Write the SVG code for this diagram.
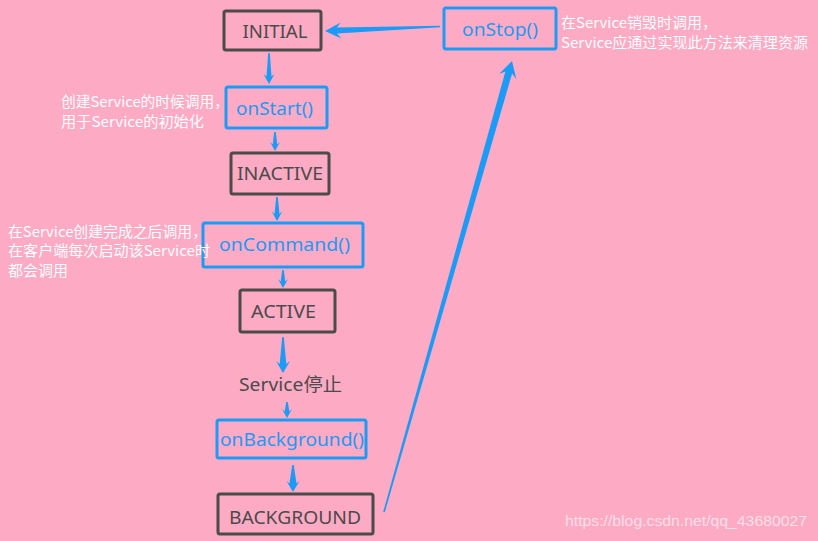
<svg xmlns="http://www.w3.org/2000/svg" width="818" height="541" viewBox="0 0 818 541">
<style>
.state rect{fill:none;stroke:#4b4b4b;stroke-width:3}
.method rect{fill:none;stroke:#1c9bf6;stroke-width:3}
.lbl{font-family:"Noto Sans","Noto Sans CJK SC",sans-serif;font-size:18px;text-anchor:middle}
.state .lbl{fill:#4b4b4b}
.method .lbl{fill:#1c9bf6}
.note{font-family:"Noto Sans CJK SC","Noto Sans",sans-serif;font-size:14.5px;fill:#ffffff}
.arr{fill:#1c9bf6}
</style>
<rect x="0" y="0" width="818" height="541" fill="#fdaac4"/>

<g id="INITIAL" class="state"><rect x="224" y="11" width="97" height="39" rx="2"/><text class="lbl" x="275" y="37.5" textLength="65" lengthAdjust="spacingAndGlyphs">INITIAL</text></g>
<g id="onStop" class="method"><rect x="444" y="8" width="112" height="41" rx="2"/><text class="lbl" x="500" y="36" textLength="76" lengthAdjust="spacingAndGlyphs">onStop()</text></g>
<g id="onStart" class="method"><rect x="226" y="87" width="101" height="41" rx="2"/><text class="lbl" x="274.5" y="115" textLength="77" lengthAdjust="spacingAndGlyphs">onStart()</text></g>
<g id="INACTIVE" class="state"><rect x="231" y="153" width="98" height="41" rx="2"/><text class="lbl" x="280" y="179.5" textLength="86" lengthAdjust="spacingAndGlyphs">INACTIVE</text></g>
<g id="onCommand" class="method"><rect x="203" y="223" width="160" height="44" rx="2"/><text class="lbl" x="284.5" y="251" textLength="131" lengthAdjust="spacingAndGlyphs">onCommand()</text></g>
<g id="ACTIVE" class="state"><rect x="240" y="290" width="95" height="42" rx="2"/><text class="lbl" x="283.5" y="317.5" textLength="65" lengthAdjust="spacingAndGlyphs">ACTIVE</text></g>
<g id="ServiceStop" class="state"><text class="lbl" x="290.5" y="391" textLength="103" lengthAdjust="spacingAndGlyphs">Service停止</text></g>
<g id="onBackground" class="method"><rect x="217" y="420" width="149" height="38" rx="2"/><text class="lbl" x="292" y="446" textLength="144" lengthAdjust="spacingAndGlyphs">onBackground()</text></g>
<g id="BACKGROUND" class="state"><rect x="218" y="494" width="155" height="40" rx="2"/><text class="lbl" x="295" y="523.5" textLength="132" lengthAdjust="spacingAndGlyphs">BACKGROUND</text></g>

<g id="notes">
<text class="note" x="561" y="28" textLength="156" lengthAdjust="spacingAndGlyphs">在Service销毁时调用，</text>
<text class="note" x="561" y="48" textLength="247" lengthAdjust="spacingAndGlyphs">Service应通过实现此方法来清理资源</text>
<text class="note" x="61" y="107" textLength="168" lengthAdjust="spacingAndGlyphs">创建Service的时候调用，</text>
<text class="note" x="61" y="127" textLength="143" lengthAdjust="spacingAndGlyphs">用于Service的初始化</text>
<text class="note" x="8" y="237" textLength="199" lengthAdjust="spacingAndGlyphs">在Service创建完成之后调用，</text>
<text class="note" x="8" y="256" textLength="202" lengthAdjust="spacingAndGlyphs">在客户端每次启动该Service时</text>
<text class="note" x="8" y="276" textLength="60" lengthAdjust="spacingAndGlyphs">都会调用</text>
</g>

<g id="connectors" class="arr">
<polygon points="440,25.8 336.9,27.5 340.7,22.4 325,31 341.3,38.4 337.1,33.5 440,27.2"/>
<polygon points="269.8,53 271.5,76.5 274.5,74 269,84 263.5,74 266.5,76.5 268.2,53"/>
<polygon points="275.8,132 277.3,144.5 280,142 275,151 270,142 272.7,144.5 274.2,132"/>
<polygon points="277.8,197 279.5,214 282.5,211 277,221 271.5,211 274.5,214 276.2,197"/>
<polygon points="283.8,270 285.3,281.5 288,279 283,288 278,279 280.7,281.5 282.2,270"/>
<polygon points="283.8,337 286.3,364 290,361 283,373 276,361 279.7,364 282.2,337"/>
<polygon points="287.8,402 289.3,411.5 292,409 287,418 282,409 284.7,411.5 286.2,402"/>
<polygon points="293.8,465 296.5,483.5 299.5,481 293,492 286.5,481 289.5,483.5 292.2,465"/>
<polygon points="384.8,512.2 512.1,73.4 516.3,78.9 512,61 499,73.9 505.4,71.5 383.2,511.8"/>
</g>

<text x="565" y="526" font-family="Liberation Sans, Arial, sans-serif" font-size="15" fill="#ffffff" fill-opacity="0.65" textLength="242" lengthAdjust="spacingAndGlyphs">https://blog.csdn.net/qq_43680027</text>
</svg>
